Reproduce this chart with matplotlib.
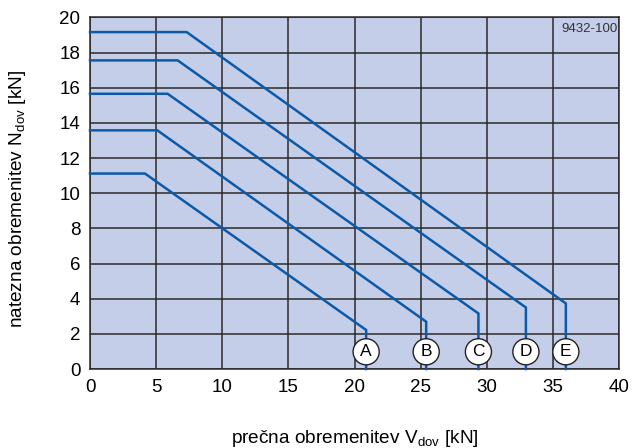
import matplotlib
matplotlib.use("Agg")
import matplotlib.pyplot as plt

plt.rcParams['font.family'] = ['Liberation Sans', 'DejaVu Sans']
plt.rcParams['mathtext.fontset'] = 'custom'
plt.rcParams['mathtext.rm'] = 'Liberation Sans'
plt.rcParams['mathtext.it'] = 'Liberation Sans:italic'

labels = ['A', 'B', 'C', 'D', 'E']
plateau_n = [11.12, 13.58, 15.66, 17.56, 19.17]   # N at plateau
knee_v = [4.16, 5.09, 5.87, 6.63, 7.31]          # V where the slope begins
end_v = [20.88, 25.42, 29.37, 32.96, 35.98]      # V of the vertical end
end_n = [2.22, 2.69, 3.16, 3.50, 3.73]           # N at bottom of slope
x_ticks = [0, 5, 10, 15, 20, 25, 30, 35, 40]
y_ticks = [0, 2, 4, 6, 8, 10, 12, 14, 16, 18, 20]

fig = plt.figure(figsize=(6.32, 4.48), dpi=100)
ax = fig.add_axes([90/632, 1-369/448, (619-90)/632, (369-17.5)/448])
ax.set_facecolor('#C5CEE8')
ax.set_xlim(0, 40)
ax.set_ylim(0, 20)
ax.set_xticks(x_ticks)
ax.set_yticks(y_ticks)
ax.grid(True, color='#2a2a2a', linewidth=1.1)
ax.set_axisbelow(True)
for s in ax.spines.values():
    s.set_color('#2a2a2a')
    s.set_linewidth(1.1)
ax.tick_params(length=0, labelsize=13.5, pad=7)

blue = '#0B5AAA'
for lab, pn, kv, ev, en in zip(labels, plateau_n, knee_v, end_v, end_n):
    ax.plot([0, kv, ev, ev], [pn, pn, en, 0], color=blue, lw=1.8,
            solid_joinstyle='miter', clip_on=False, zorder=3)
    ax.text(ev, 0.98, lab, ha='center', va='center', fontsize=12.5, zorder=5,
            bbox=dict(boxstyle='circle,pad=0.32', fc='white', ec='#222222', lw=1.0))

ax.text(0.997, 0.985, '9432-100', transform=ax.transAxes, ha='right', va='top',
        fontsize=9.5, color='#333333')

fig.text(355/632, 1-438/448, r'prečna obremenitev V$_{\mathrm{dov}}$ [kN]',
         ha='center', va='center', fontsize=13.7)
fig.text(18/632, 1-199/448, r'natezna obremenitev N$_{\mathrm{dov}}$ [kN]',
         ha='center', va='center', fontsize=13.7, rotation=90)

fig.savefig('out.png', dpi=100)
